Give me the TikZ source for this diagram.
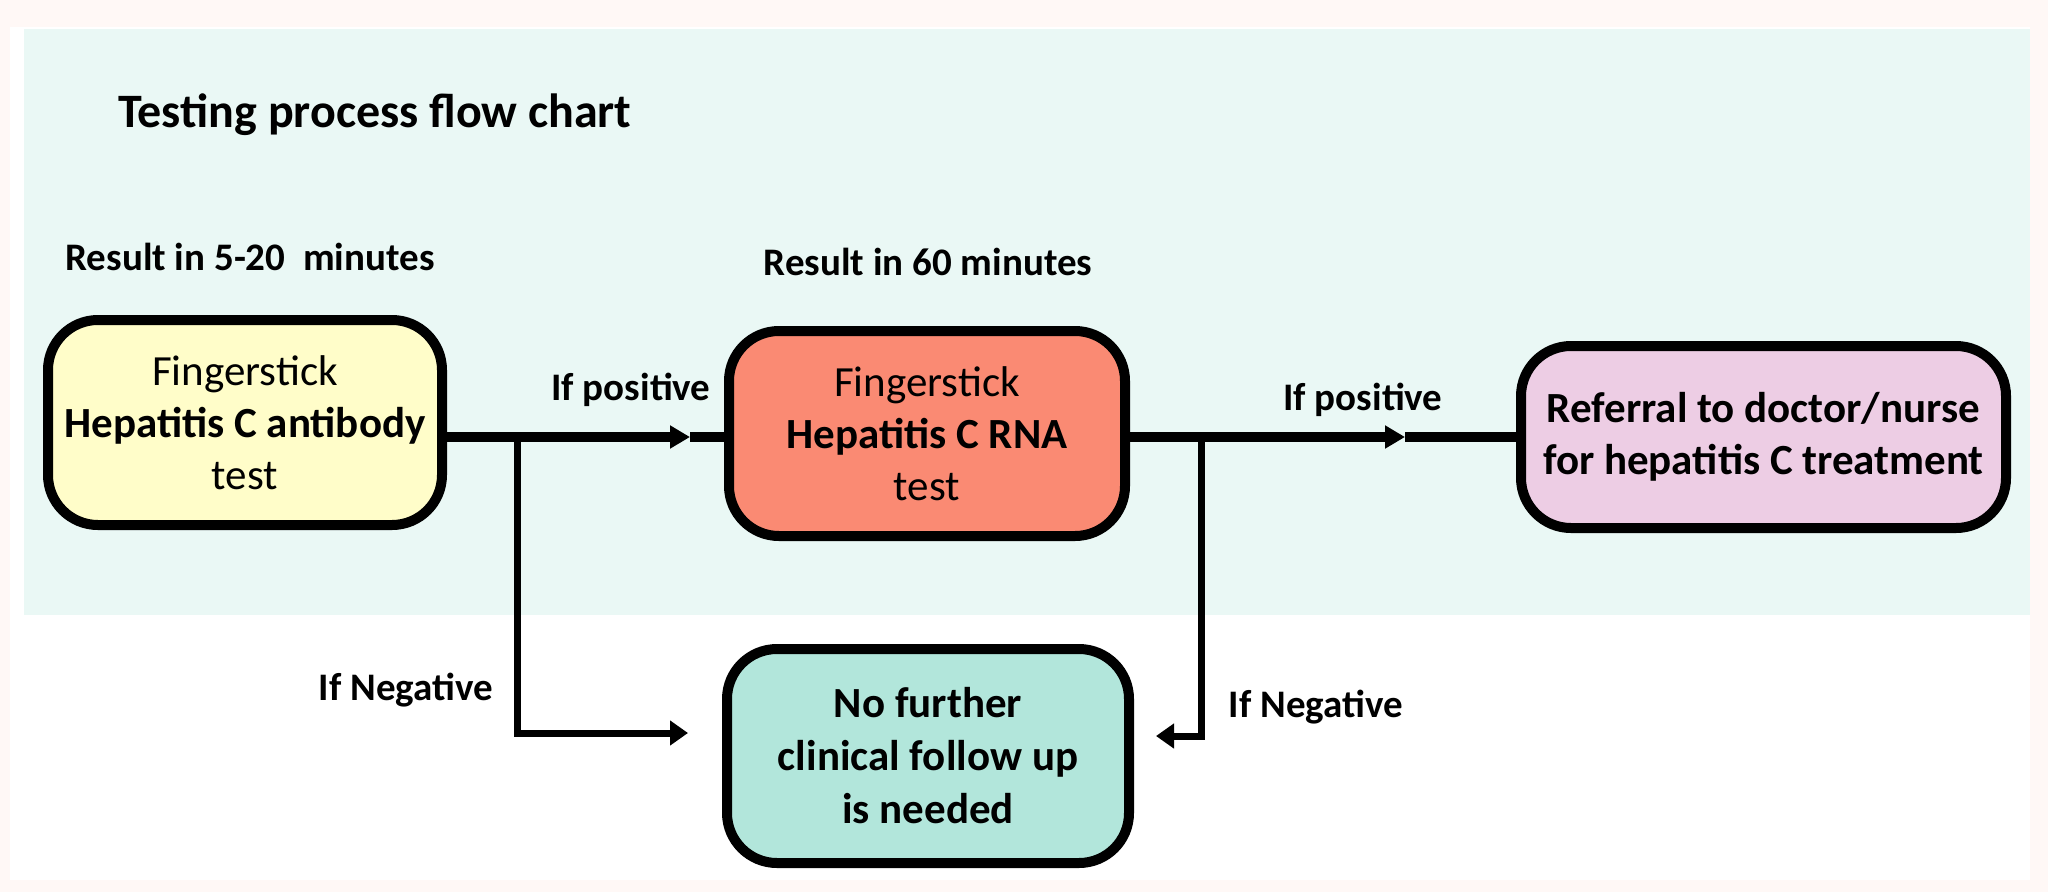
\documentclass[tikz,border=0pt]{standalone}
\usepackage{fontspec}
\setmainfont{Carlito}
\usetikzlibrary{arrows.meta}
\definecolor{margincol}{HTML}{FFF8F6}
\definecolor{bandcol}{HTML}{EAF8F5}
\definecolor{yellowfill}{HTML}{FFFDC9}
\definecolor{salmonfill}{HTML}{FA8A73}
\definecolor{pinkfill}{HTML}{EDCDE4}
\definecolor{tealfill}{HTML}{B2E6DB}
\begin{document}
\begin{tikzpicture}[x=1pt,y=-1pt,
  box/.style={draw=black, line width=10pt, rounded corners=50pt, align=center, inner sep=0pt, font=\fontsize{43}{52}\selectfont},
  lbl/.style={font=\bfseries\fontsize{39}{47}\selectfont, inner sep=0pt, anchor=base},
  mainline/.style={line width=10pt},
  negline/.style={line width=7pt},
  midtip/.style={-{Triangle[length=20pt,width=22pt]}},
  endtip/.style={-{Triangle[length=18pt,width=24pt]}}]
\useasboundingbox (0,0) rectangle (2048,892);
\fill[margincol] (0,0) rectangle (2048,892);
\fill[white] (10,27) rectangle (2030,880);
\fill[bandcol] (24,29) rectangle (2030,615);

\node[anchor=base west, font=\bfseries\fontsize{48}{57}\selectfont, inner sep=0pt] (title) at (118,127) {Testing process flow chart};
\node[lbl] (r1) at (250,270) {Result in 5-20\ \ minutes};
\node[lbl] (r2) at (928,275) {Result in 60 minutes};

\node[box, fill=yellowfill, minimum width=394pt, minimum height=205pt] (b1) at (245,422.5) {Fingerstick\\\textbf{Hepatitis C antibody}\\test};
\node[box, fill=salmonfill, minimum width=396pt, minimum height=205pt] (b2) at (927,433.5) {Fingerstick\\\textbf{Hepatitis C RNA}\\test};
\node[box, fill=pinkfill, minimum width=485pt, minimum height=182pt, font=\bfseries\fontsize{43}{52}\selectfont] (b3) at (1763.5,437) {Referral to doctor/nurse\\for hepatitis C treatment};
\node[box, fill=tealfill, minimum width=402pt, minimum height=214pt, font=\bfseries\fontsize{43}{53}\selectfont] (b4) at (928,756) {No further\\clinical follow up\\is needed};

\coordinate (j1) at (517,437);
\coordinate (m1) at (690,437);
\coordinate (j2) at (1201,437);
\coordinate (m2) at (1405,437);
\coordinate (n1) at (688,733);
\coordinate (n2) at (1156,736);

\draw[mainline, midtip] (b1.east |- j1) -- (m1);
\draw[mainline] (m1) -- (b2.west |- m1);
\draw[mainline, midtip] (b2.east |- j2) -- (m2);
\draw[mainline] (m2) -- (b3.west |- m2);
\draw[negline, endtip] (j1) |- (n1);
\draw[negline, endtip] (j2) |- (n2);

\node[lbl] (p1) at (631,400) {If positive};
\node[lbl] (p2) at (1363,410) {If positive};
\node[lbl] (g1) at (406,700) {If Negative};
\node[lbl] (g2) at (1316,717) {If Negative};
\end{tikzpicture}
\end{document}
